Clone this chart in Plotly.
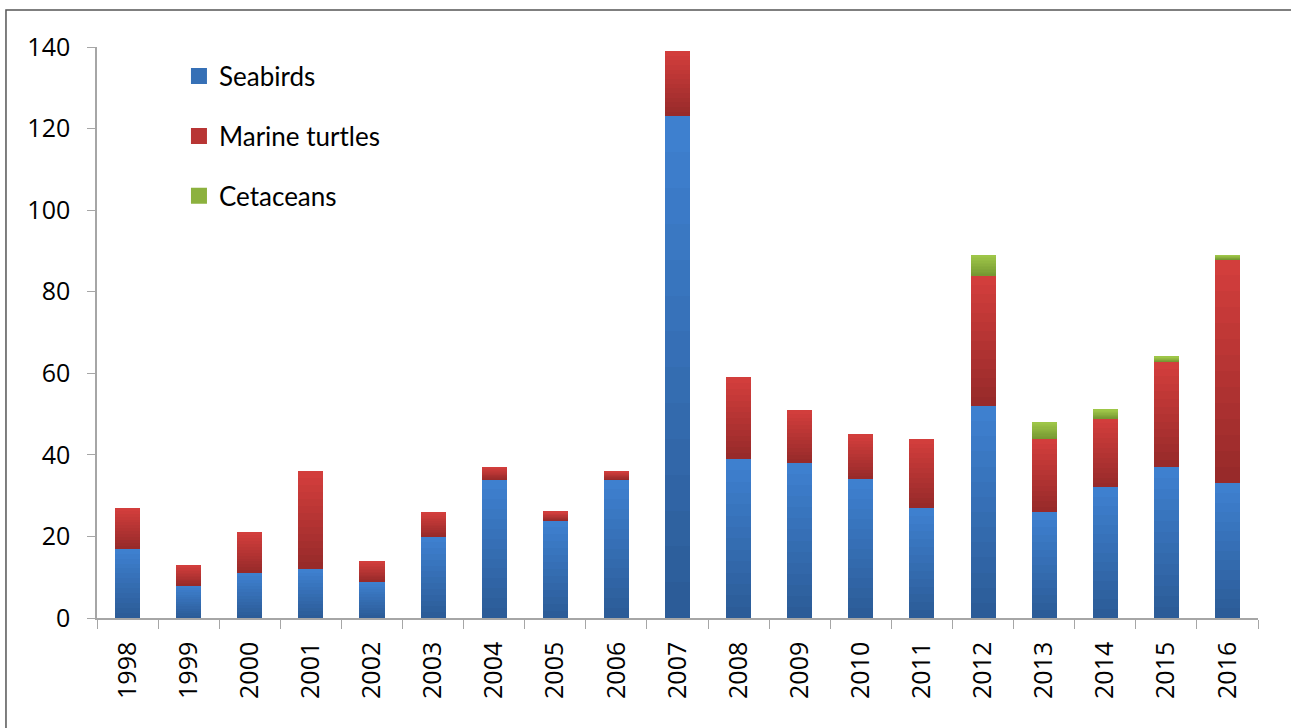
import plotly.graph_objects as go

# Annual counts by year
years = [str(y) for y in range(1998, 2017)]
seabirds = [17, 8, 11, 12, 9, 20, 34, 24, 34, 123, 39, 38, 34, 27, 52, 26, 32, 37, 33]
marine_turtles = [10, 5, 10, 24, 5, 6, 3, 2, 2, 16, 20, 13, 11, 17, 32, 18, 17, 26, 55]
cetaceans = [0, 0, 0, 0, 0, 0, 0, 0, 0, 0, 0, 0, 0, 0, 5, 4, 2, 1, 1]

y_ticks = [0, 20, 40, 60, 80, 100, 120, 140]

# (name, values, colour at bottom of a segment, colour at top of a segment)
series = [
    ("Seabirds", seabirds, (44, 92, 152), (62, 128, 207)),
    ("Marine turtles", marine_turtles, (152, 42, 42), (210, 62, 60)),
    ("Cetaceans", cetaceans, (118, 152, 50), (158, 198, 72)),
]

N_BANDS = 14  # vertical shading bands per segment


def mix(c0, c1, t):
    return "rgb(%d,%d,%d)" % tuple(round(a + (b - a) * t) for a, b in zip(c0, c1))


fig = go.Figure()
for name, vals, c_bot, c_top in series:
    for k in range(N_BANDS):
        t = k / (N_BANDS - 1)
        fig.add_trace(go.Bar(
            x=years,
            y=[v / N_BANDS for v in vals],
            name=name,
            legendgroup=name,
            showlegend=False,
            marker=dict(color=mix(c_bot, c_top, t), line=dict(width=0)),
            customdata=vals,
            hovertemplate="%{x}<br>" + name + ": %{customdata}<extra></extra>",
            width=0.41,
        ))

# Legend keys: square swatches tied to each series group
for name, vals, c_bot, c_top in series:
    fig.add_trace(go.Scatter(
        x=[None], y=[None],
        mode="markers",
        name=name,
        legendgroup=name,
        showlegend=True,
        marker=dict(symbol="square", size=16, color=mix(c_bot, c_top, 0.55),
                    line=dict(width=0)),
        hoverinfo="skip",
    ))

axis_col = "#a6a6a6"
tick_font = dict(family="Open Sans, sans-serif", size=25, color="black")
fig.update_layout(
    width=1291,
    height=728,
    barmode="stack",
    bargap=0,
    paper_bgcolor="white",
    plot_bgcolor="white",
    margin=dict(l=97, r=33, t=47, b=110, autoexpand=False),
    font=dict(family="Lato, sans-serif", size=26, color="black"),
    showlegend=True,
    legend=dict(
        x=0.0706, y=0.990, xanchor="left", yanchor="top",
        traceorder="grouped", tracegroupgap=23,
        font=dict(family="Lato, sans-serif", size=26, color="black"),
        bgcolor="rgba(0,0,0,0)",
    ),
    xaxis=dict(
        type="category",
        tickangle=-90,
        ticks="outside",
        tickson="boundaries",
        ticklen=9,
        tickcolor=axis_col,
        ticklabelstandoff=12,
        showline=True,
        linecolor=axis_col,
        linewidth=1.5,
        showgrid=False,
        tickfont=tick_font,
    ),
    yaxis=dict(
        range=[0, 140],
        tickvals=y_ticks,
        ticks="outside",
        ticklen=8,
        tickcolor=axis_col,
        ticklabelstandoff=12,
        showline=True,
        linecolor=axis_col,
        linewidth=1.5,
        showgrid=False,
        zeroline=False,
        tickfont=tick_font,
    ),
    shapes=[dict(
        type="rect", xref="paper", yref="paper",
        x0=-0.0784, x1=1.04, y0=-0.25, y1=1.0648,
        line=dict(color="#555555", width=1.5),
        fillcolor="rgba(0,0,0,0)", layer="below",
    )],
)

fig.write_html("out.html")
